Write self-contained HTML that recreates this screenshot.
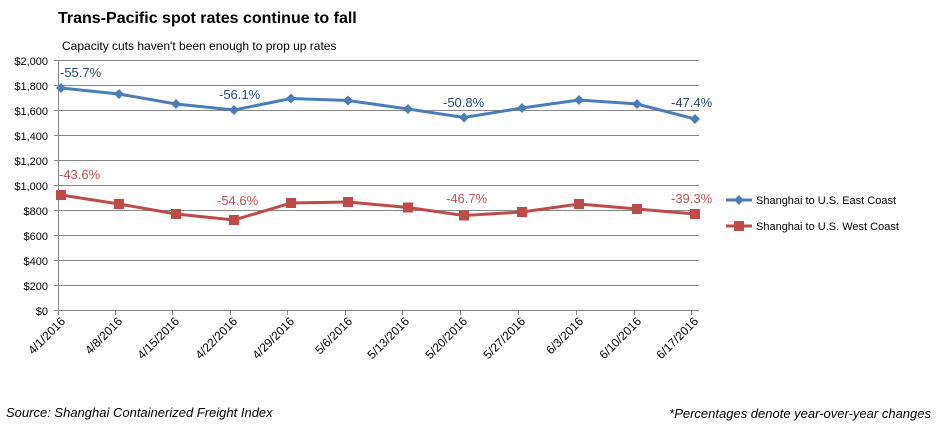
<!DOCTYPE html>
<html><head><meta charset="utf-8"><style>
body{margin:0;background:#fff;}
svg{display:block;font-family:"Liberation Sans",Arial,sans-serif;}
</style></head><body>
<svg width="938" height="426" viewBox="0 0 938 426">
<text x="58" y="23" font-size="16" font-weight="bold" fill="#000">Trans-Pacific spot rates continue to fall</text>
<text x="62" y="50" font-size="12" fill="#000">Capacity cuts haven't been enough to prop up rates</text>
<g stroke="#868686" stroke-width="1">
<line x1="54" y1="60.5" x2="699" y2="60.5"/><line x1="54" y1="85.5" x2="699" y2="85.5"/><line x1="54" y1="110.5" x2="699" y2="110.5"/><line x1="54" y1="135.5" x2="699" y2="135.5"/><line x1="54" y1="160.5" x2="699" y2="160.5"/><line x1="54" y1="185.5" x2="699" y2="185.5"/><line x1="54" y1="210.5" x2="699" y2="210.5"/><line x1="54" y1="235.5" x2="699" y2="235.5"/><line x1="54" y1="260.5" x2="699" y2="260.5"/><line x1="54" y1="285.5" x2="699" y2="285.5"/><line x1="54" y1="310.5" x2="699" y2="310.5"/>
<line x1="58.5" y1="60" x2="58.5" y2="315"/>
<line x1="115.5" y1="310" x2="115.5" y2="315"/><line x1="172.5" y1="310" x2="172.5" y2="315"/><line x1="230.5" y1="310" x2="230.5" y2="315"/><line x1="287.5" y1="310" x2="287.5" y2="315"/><line x1="345.5" y1="310" x2="345.5" y2="315"/><line x1="402.5" y1="310" x2="402.5" y2="315"/><line x1="460.5" y1="310" x2="460.5" y2="315"/><line x1="518.5" y1="310" x2="518.5" y2="315"/><line x1="576.5" y1="310" x2="576.5" y2="315"/><line x1="634.5" y1="310" x2="634.5" y2="315"/><line x1="691.5" y1="310" x2="691.5" y2="315"/>
</g>
<g font-size="11" fill="#000" text-anchor="end">
<text x="48" y="65">$2,000</text><text x="48" y="90">$1,800</text><text x="48" y="115">$1,600</text><text x="48" y="140">$1,400</text><text x="48" y="165">$1,200</text><text x="48" y="190">$1,000</text><text x="48" y="215">$800</text><text x="48" y="240">$600</text><text x="48" y="265">$400</text><text x="48" y="290">$200</text><text x="48" y="315">$0</text>
</g>
<g font-size="12" fill="#000" text-anchor="end">
<text transform="translate(66,322) rotate(-45)">4/1/2016</text>
<text transform="translate(123,322) rotate(-45)">4/8/2016</text>
<text transform="translate(180,322) rotate(-45)">4/15/2016</text>
<text transform="translate(238,322) rotate(-45)">4/22/2016</text>
<text transform="translate(295,322) rotate(-45)">4/29/2016</text>
<text transform="translate(353,322) rotate(-45)">5/6/2016</text>
<text transform="translate(410,322) rotate(-45)">5/13/2016</text>
<text transform="translate(468,322) rotate(-45)">5/20/2016</text>
<text transform="translate(526,322) rotate(-45)">5/27/2016</text>
<text transform="translate(584,322) rotate(-45)">6/3/2016</text>
<text transform="translate(642,322) rotate(-45)">6/10/2016</text>
<text transform="translate(699,322) rotate(-45)">6/17/2016</text>
</g>
<polyline fill="none" stroke="#4a7ebb" stroke-width="3" points="61,88 119,94 176,104 234,110 291,98.5 348,100.5 408,109 464,117.5 522,108 579,100 637,104 695,119"/>
<g fill="#4a7ebb">
<path d="M61,83l5,5l-5,5l-5,-5z"/><path d="M119,89l5,5l-5,5l-5,-5z"/><path d="M176,99l5,5l-5,5l-5,-5z"/><path d="M234,105l5,5l-5,5l-5,-5z"/><path d="M291,93.5l5,5l-5,5l-5,-5z"/><path d="M348,95.5l5,5l-5,5l-5,-5z"/><path d="M408,104l5,5l-5,5l-5,-5z"/><path d="M464,112.5l5,5l-5,5l-5,-5z"/><path d="M522,103l5,5l-5,5l-5,-5z"/><path d="M579,95l5,5l-5,5l-5,-5z"/><path d="M637,99l5,5l-5,5l-5,-5z"/><path d="M695,114l5,5l-5,5l-5,-5z"/>
</g>
<polyline fill="none" stroke="#be4b48" stroke-width="3" points="61,195 119,204 176,214 234,220 291,203 348,202 408,207.5 464,215.5 522,212 579,204 637,209 695,214"/>
<g fill="#be4b48">
<rect x="56" y="190" width="10" height="10"/><rect x="114" y="199" width="10" height="10"/><rect x="171" y="209" width="10" height="10"/><rect x="229" y="215" width="10" height="10"/><rect x="286" y="198" width="10" height="10"/><rect x="343" y="197" width="10" height="10"/><rect x="403" y="202.5" width="10" height="10"/><rect x="459" y="210.5" width="10" height="10"/><rect x="517" y="207" width="10" height="10"/><rect x="574" y="199" width="10" height="10"/><rect x="632" y="204" width="10" height="10"/><rect x="690" y="209" width="10" height="10"/>
</g>
<g font-size="13" fill="#1f497d">
<text x="60" y="77">-55.7%</text><text x="219" y="99">-56.1%</text><text x="443" y="107">-50.8%</text><text x="671" y="107">-47.4%</text>
</g>
<g font-size="13" fill="#c0504d">
<text x="59" y="179">-43.6%</text><text x="217" y="205">-54.6%</text><text x="446" y="203">-46.7%</text><text x="671" y="203">-39.3%</text>
</g>
<line x1="726" y1="200" x2="752" y2="200" stroke="#4a7ebb" stroke-width="3"/>
<path d="M739,195l5,5l-5,5l-5,-5z" fill="#4a7ebb"/>
<text x="756" y="204" font-size="11">Shanghai to U.S. East Coast</text>
<line x1="726" y1="226" x2="752" y2="226" stroke="#be4b48" stroke-width="3"/>
<rect x="734" y="221" width="10" height="10" fill="#be4b48"/>
<text x="756" y="230" font-size="11">Shanghai to U.S. West Coast</text>
<text x="6" y="417" font-size="13" font-style="italic">Source: Shanghai Containerized Freight Index</text>
<text x="931" y="418" font-size="13" font-style="italic" text-anchor="end">*Percentages denote year-over-year changes</text>
</svg>
</body></html>
